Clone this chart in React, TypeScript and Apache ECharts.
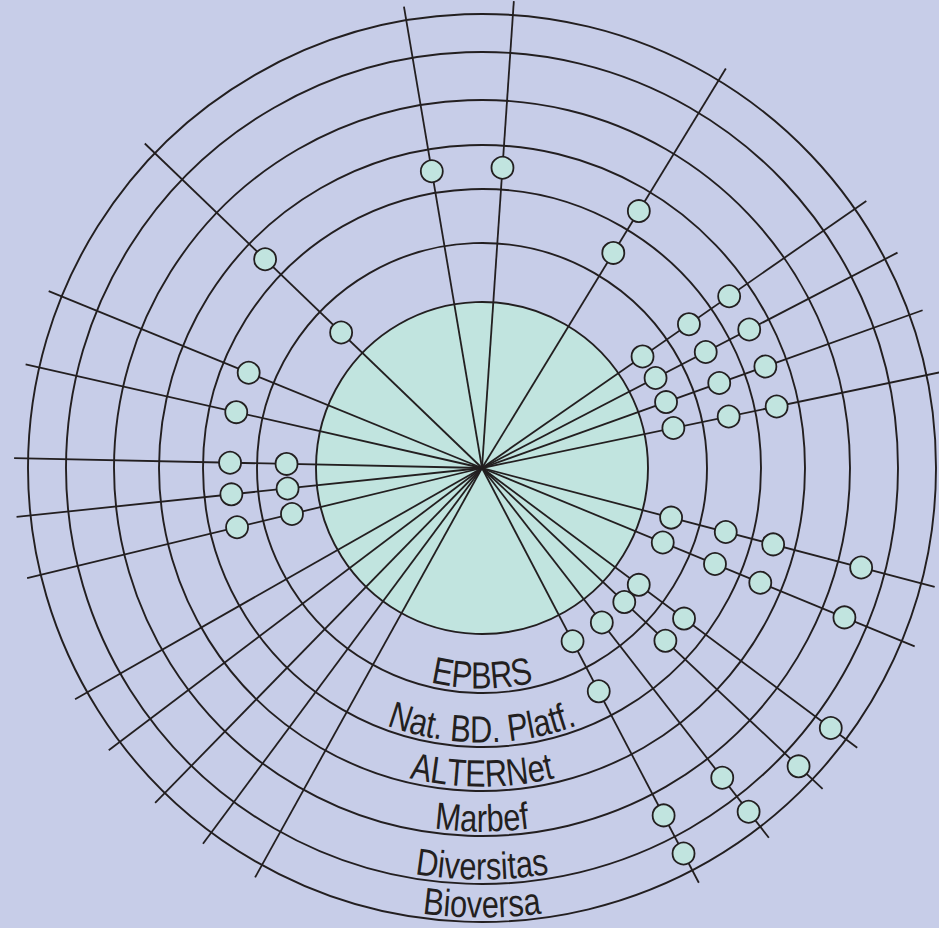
import React, { useEffect, useRef } from 'react';
import * as echarts from 'echarts';

// Radial scale: edge of the central disc, then the six ring boundaries
const ringEdges = [166, 225, 279, 323, 368, 416, 454];
// Band names, from the innermost band (disc edge -> ring 1) outward
const bandLabels = ['EPBRS', 'Nat. BD. Platf.', 'ALTERNet', 'Marbef', 'Diversitas', 'Bioversa'];
// Spoke directions, degrees clockwise from north
const spokeAngles = [
  3.9, 31.4, 55.2, 62.6, 70.3, 78.2, 104.7, 112.4, 126.7, 133.3, 142.2, 152.4,
  209, 216.6, 224.3, 232.9, 240.4, 256.4, 264, 271.2, 282.8, 292.2, 313.9, 350.4,
];
// Bands (1 = EPBRS ... 6 = Bioversa) in which each spoke carries a marker
const spokeBands = [
  [3], [2, 3], [1, 2, 3], [1, 2, 3], [1, 2, 3], [1, 2, 3], [1, 2, 3, 5], [1, 2, 3, 5],
  [1, 2, 6], [1, 2, 6], [1, 5, 6], [1, 2, 5, 6],
  [], [], [], [], [],
  [1, 2], [1, 2], [1, 2], [2], [2], [1, 3], [3],
];
const spokeReach = 468;

const CX = 482;
const CY = 468;
const INK = '#231f20';
const BG = '#c7cde8';
const TEAL = '#c1e4df';
const FONT_FAMILY = "'Liberation Sans', Arial, Helvetica, sans-serif";
const FONT_SIZE = 38;
const NARROW = 0.81;

export default function App() {
  const ref = useRef<HTMLDivElement>(null);

  useEffect(() => {
    if (!ref.current) return;
    const chart = echarts.init(ref.current, null, { renderer: 'svg' });
    const ctx = document.createElement('canvas').getContext('2d') as CanvasRenderingContext2D;
    ctx.font = `${FONT_SIZE}px ${FONT_FAMILY}`;

    const markerData: number[][] = [];
    spokeBands.forEach((bands, i) => {
      bands.forEach((b) => {
        markerData.push([(ringEdges[b - 1] + ringEdges[b]) / 2, spokeAngles[i]]);
      });
    });

    const option: any = {
      animation: false,
      backgroundColor: BG,
      polar: { center: [CX, CY], radius: spokeReach },
      angleAxis: {
        type: 'value', min: 0, max: 360, startAngle: 90, clockwise: true, show: false,
      },
      radiusAxis: { type: 'value', min: 0, max: spokeReach, show: false },
      series: [
        {
          type: 'custom',
          coordinateSystem: 'polar',
          z: 1,
          silent: true,
          data: ringEdges.map((r) => [r, 0]),
          renderItem: (params: any, api: any) => {
            const c = api.coord([0, 0]);
            const p = api.coord([api.value(0), 0]);
            const r = Math.hypot(p[0] - c[0], p[1] - c[1]);
            return {
              type: 'circle',
              shape: { cx: c[0], cy: c[1], r },
              style: {
                fill: params.dataIndex === 0 ? TEAL : 'none',
                stroke: INK,
                lineWidth: 1.9,
              },
            };
          },
        },
        {
          type: 'custom',
          coordinateSystem: 'polar',
          z: 2,
          silent: true,
          data: spokeAngles.map((a) => [spokeReach, a]),
          renderItem: (params: any, api: any) => {
            const a = api.value(1);
            const s = api.coord([0, a]);
            const e = api.coord([api.value(0), a]);
            return {
              type: 'line',
              shape: { x1: s[0], y1: s[1], x2: e[0], y2: e[1] },
              style: { stroke: INK, lineWidth: 1.8 },
            };
          },
        },
        {
          type: 'scatter',
          coordinateSystem: 'polar',
          z: 3,
          silent: true,
          symbol: 'circle',
          symbolSize: 22,
          itemStyle: { color: TEAL, borderColor: INK, borderWidth: 1.8, opacity: 1 },
          data: markerData,
        },
        {
          type: 'custom',
          coordinateSystem: 'polar',
          z: 4,
          silent: true,
          data: bandLabels.map((_, i) => [ringEdges[i + 1], 180]),
          renderItem: (params: any, api: any) => {
            const text = bandLabels[params.dataIndex];
            const c = api.coord([0, 180]);
            const p = api.coord([api.value(0), 180]);
            const R = Math.hypot(p[0] - c[0], p[1] - c[1]);
            const rb = R - 4;
            const rc = rb - 0.36 * FONT_SIZE;
            const chars = Array.from(text);
            const widths = chars.map((ch) => ctx.measureText(ch).width * NARROW);
            const total = widths.reduce((s, w) => s + w, 0);
            let s = -total / 2;
            const children = chars.map((ch, k) => {
              const sc = s + widths[k] / 2;
              s += widths[k];
              const phi = sc / rb;
              return {
                type: 'text',
                x: c[0] + rc * Math.sin(phi),
                y: c[1] + rc * Math.cos(phi),
                rotation: phi,
                scaleX: NARROW,
                scaleY: 1,
                style: {
                  text: ch,
                  x: 0,
                  y: 0,
                  fill: INK,
                  fontSize: FONT_SIZE,
                  fontFamily: FONT_FAMILY,
                  align: 'center',
                  verticalAlign: 'middle',
                },
              };
            });
            return { type: 'group', children };
          },
        },
      ],
    };

    chart.setOption(option);
    return () => {
      chart.dispose();
    };
  }, []);

  return (
    <div
      ref={ref}
      style={{ position: 'fixed', left: 0, top: 0, width: 939, height: 928 }}
    />
  );
}
